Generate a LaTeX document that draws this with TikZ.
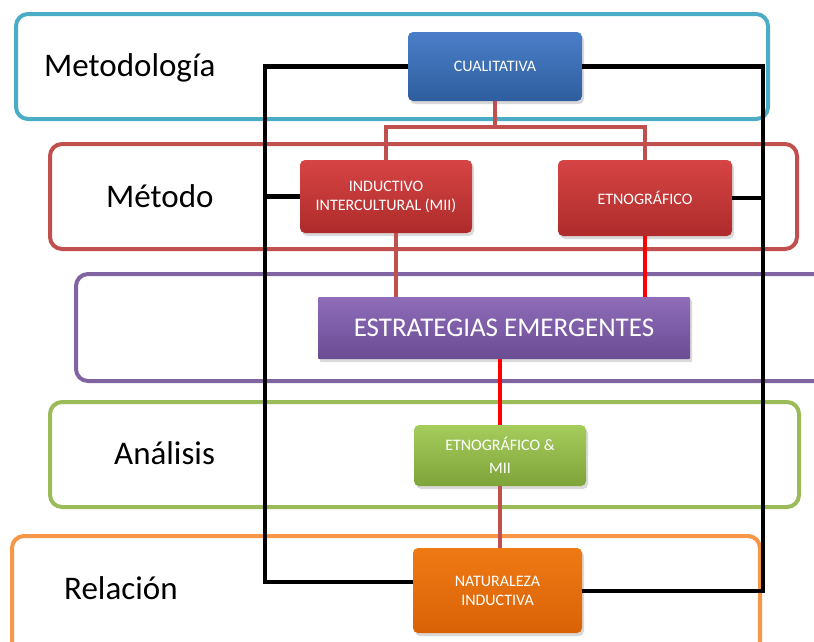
\documentclass[tikz,border=0pt]{standalone}
\usepackage{fontspec}
\setmainfont{Carlito}
\usetikzlibrary{shadows}
\definecolor{cyanfr}{HTML}{4BACC6}
\definecolor{redfr}{HTML}{C0504D}
\definecolor{purplefr}{HTML}{8064A2}
\definecolor{greenfr}{HTML}{9BBB59}
\definecolor{orangefr}{HTML}{F79646}
\definecolor{bluetop}{HTML}{4A7EC8}
\definecolor{bluebot}{HTML}{2E5E9E}
\definecolor{redtop}{HTML}{D64444}
\definecolor{redbot}{HTML}{AE2B2B}
\definecolor{purpletop}{HTML}{8F6DB9}
\definecolor{purplebot}{HTML}{6A4C93}
\definecolor{greentop}{HTML}{A6CC5C}
\definecolor{greenbot}{HTML}{7EA43A}
\definecolor{orangetop}{HTML}{EE7A14}
\definecolor{orangebot}{HTML}{DA6206}
\begin{document}
\begin{tikzpicture}[x=1pt, y=-1pt,
  frame/.style={line width=4pt, rounded corners=12pt},
  lbl/.style={anchor=base west, inner sep=0pt, font=\fontsize{33}{38}\selectfont},
  box/.style={rounded corners=5pt, text=white, align=center, inner sep=2pt,
    font=\fontsize{16}{19}\selectfont,
    drop shadow={opacity=.3, shadow xshift=2pt, shadow yshift=-3pt}},
  link/.style={line width=4pt},
  blackline/.style={line width=4.5pt, black}]
 \useasboundingbox (0,0) rectangle (814,641);
 \clip (0,0) rectangle (814,641);
 % frames
 \draw[frame, cyanfr] (16,14) rectangle (768,119);
 \draw[frame, redfr] (50,144) rectangle (797,249);
 \draw[frame, purplefr] (76,274) rectangle (840,381);
 \draw[frame, greenfr] (50,402) rectangle (799,507);
 \draw[frame, orangefr] (12,536) rectangle (760,670);
 \foreach \t/\x/\y in {Metodología/44/76, Método/106/207, Análisis/114/464, Relación/64/599}
 {
     \node[lbl] at (\x,\y) {\t};
 }
 % boxes
 \node[box, minimum width=174pt, minimum height=69pt, top color=bluetop, bottom color=bluebot] (cual) at (495,66.5) {CUALITATIVA};
 \node[box, minimum width=172pt, minimum height=73pt, top color=redtop, bottom color=redbot] (induct) at (386,196.5) {INDUCTIVO\\INTERCULTURAL (MII)};
 \node[box, minimum width=174pt, minimum height=76pt, top color=redtop, bottom color=redbot] (etno) at (645,198) {ETNOGRÁFICO};
 \node[box, rounded corners=1pt, minimum width=372pt, minimum height=62pt, top color=purpletop, bottom color=purplebot, font=\fontsize{27}{32}\selectfont] (estrat) at (504,328) {ESTRATEGIAS EMERGENTES};
 \node[box, minimum width=172pt, minimum height=61pt, top color=greentop, bottom color=greenbot, font=\fontsize{16}{23}\selectfont] (mii) at (500,455.5) {ETNOGRÁFICO \&\\MII};
 \node[box, minimum width=169pt, minimum height=85pt, top color=orangetop, bottom color=orangebot] (natur) at (497.5,590.5) {NATURALEZA\\INDUCTIVA};
 % black frame lines
 \coordinate (bl) at (265,582);
 \coordinate (br) at (763,591);
 \draw[blackline] (cual.west) -| (bl) -- (bl -| natur.west);
 \draw[blackline] (cual.east) -| (br) -- (br -| natur.east);
 \draw[blackline] (induct.west) -- (induct.west -| bl);
 \draw[blackline] (etno.east) -- (etno.east -| br);
 % links
 \coordinate (split) at (495,127);
 \draw[link, redfr] (cual.south) -- (split);
 \draw[link, redfr] (induct.north) |- (split) -| (etno.north);
 \draw[link, redfr] ([xshift=10pt]induct.south) -- ([xshift=10pt]induct.south |- estrat.north);
 \draw[link, red] (etno.south) -- (etno.south |- estrat.north);
 \draw[link, red] (mii.north) -- (mii.north |- estrat.south);
 \draw[link, redfr] (mii.south) -- (mii.south |- natur.north);
\end{tikzpicture}
\end{document}
